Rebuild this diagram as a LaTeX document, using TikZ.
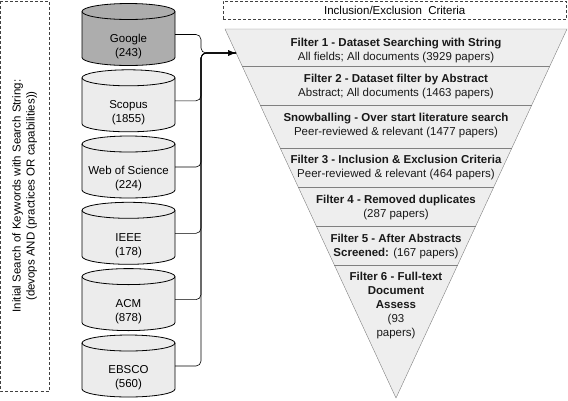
\documentclass[tikz,border=0pt]{standalone}
\usepackage{fontspec}
\setmainfont{Liberation Sans}
\usetikzlibrary{arrows.meta, positioning, backgrounds, calc}
\tikzset{%
  db/.style={rectangle, minimum width=93pt, minimum height=62pt, inner sep=0pt, outer sep=0pt},
  dbtext/.style={align=center, yshift=-12pt},
  drum/.style={thick, draw=black},
  frame/.style={draw=black!75, dash pattern=on 3pt off 2pt, inner sep=0pt},
  funnel/.style={draw=black!50, fill=gray!13},
  cut/.style={draw=black!50},
  stage/.style={align=center, text=black!90},
  link/.style={semithick, rounded corners=5pt},
  feed/.style={-{Latex[length=8pt,width=6pt]}}
}
\begin{document}
\begin{tikzpicture}[x=1pt, y=-1pt, font=\fontsize{11.5}{14}\selectfont]
  \useasboundingbox (0,0) rectangle (568,400);

  % search string
  \node[frame, rotate=90, align=center, minimum width=390pt, minimum height=48.5pt]
    (search) at (24.75,196) {Initial Search of Keywords with Search String:\\(devops AND (practices OR capabilities))};

  % databases
  \node[db, label={[dbtext]center:{Google\\(243)}}] (google) at (128.5,34.5) {};
  \node[db, label={[dbtext]center:{Scopus\\(1855)}}] (scopus) at (128.5,100.8) {};
  \node[db, label={[dbtext]center:{Web of Science\\(224)}}] (wos) at (128.5,167) {};
  \node[db, label={[dbtext]center:{IEEE\\(178)}}] (ieee) at (128.5,233.3) {};
  \node[db, label={[dbtext]center:{ACM\\(878)}}] (acm) at (128.5,299.6) {};
  \node[db, label={[dbtext]center:{EBSCO\\(560)}}] (ebsco) at (128.5,366) {};

  \begin{scope}[on background layer]
    \foreach \n/\c in {google/black!32, scopus/gray!15, wos/gray!15, ieee/gray!15, acm/gray!15, ebsco/gray!15} {
      \filldraw[drum, fill=\c] ($(\n.north west)+(0,8)$) -- ($(\n.south west)+(0,-8)$)
        arc[start angle=180, end angle=0, x radius=46.5, y radius=8]
        -- ($(\n.north east)+(0,8)$)
        arc[start angle=0, end angle=-180, x radius=46.5, y radius=8] -- cycle;
      \draw[drum] ($(\n.north west)+(0,8)$) arc[start angle=180, end angle=0, x radius=46.5, y radius=8];
    }
  \end{scope}

  % criteria
  \node[frame, minimum width=343.5pt, minimum height=18pt] (criteria) at (394.75,10) {Inclusion/Exclusion\ \ Criteria};

  % funnel
  \coordinate (tl) at (225,29);
  \coordinate (tr) at (567,29);
  \coordinate (tip) at (396,398);
  \draw[funnel] (tl) -- (tr) -- (tip) -- cycle;
  \foreach \t in {0.1003,0.206,0.3225,0.428,0.534,0.6396}
    \draw[cut] ($(tl)!\t!(tip)$) -- ($(tr)!\t!(tip)$);

  \node[stage] (f1) at (396,51) {\textbf{Filter 1 - Dataset Searching with String}\\All fields; All documents (3929 papers)};
  \node[stage] (f2) at (396,87) {\textbf{Filter 2 - Dataset filter by Abstract}\\Abstract; All documents (1463 papers)};
  \node[stage] (snow) at (396,125.5) {\textbf{Snowballing - Over start literature search}\\Peer-reviewed \& relevant (1477 papers)};
  \node[stage] (f3) at (396,167.5) {\textbf{Filter 3 - Inclusion \& Exclusion Criteria}\\Peer-reviewed \& relevant (464 papers)};
  \node[stage] (f4) at (396,207.5) {\textbf{Filter 4 - Removed duplicates}\\(287 papers)};
  \node[stage] (f5) at (396,246.5) {\textbf{Filter 5 - After Abstracts}\\\textbf{Screened:} (167 papers)};
  \node[stage] (f6) at (396,306) {\textbf{Filter 6 - Full-text}\\\textbf{Document}\\\textbf{Assess}\\(93\\papers)};

  % connectors
  \coordinate (in) at ($(tl)!0.065!(tip)$);
  \coordinate (hub) at (201,53);
  \draw[link, feed] (google.east) -| (hub) -- (in);
  \foreach \src in {scopus, wos, ieee, acm, ebsco}
    \draw[link] (\src.east) -| (hub) -- (in);
\end{tikzpicture}
\end{document}
